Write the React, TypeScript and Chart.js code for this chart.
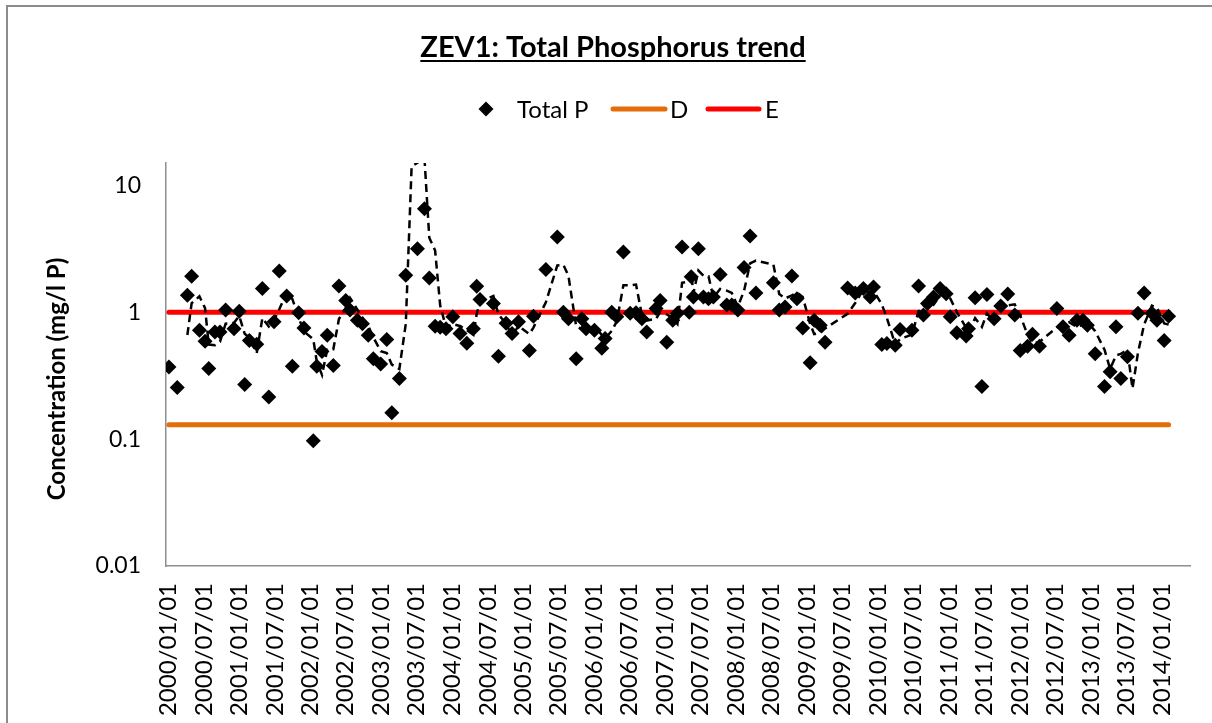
import React, { useEffect, useRef } from 'react';
import { Chart, registerables } from 'chart.js';

Chart.register(...registerables);

// ---------------- data ----------------
const chartTitle = 'ZEV1: Total Phosphorus trend';
const yAxisTitle = 'Concentration (mg/l P)';
const legendLabels = ['Total P', 'D', 'E'];

// Sampling dates of the Total P series
const sampleDates = [
  '2000-01-03', '2000-02-15', '2000-04-07', '2000-04-29', '2000-06-08', '2000-07-07', '2000-07-26', '2000-08-27', '2000-09-22', '2000-10-21', '2000-12-03', '2000-12-30',
  '2001-01-27', '2001-02-20', '2001-03-30', '2001-04-28', '2001-05-31', '2001-06-27', '2001-07-24', '2001-08-31', '2001-09-29', '2001-11-01', '2001-11-28',
  '2002-01-15', '2002-02-02', '2002-03-01', '2002-03-28', '2002-04-28', '2002-05-27', '2002-07-01', '2002-07-23', '2002-08-30', '2002-09-25', '2002-10-25', '2002-11-20', '2002-12-28',
  '2003-01-28', '2003-02-23', '2003-04-03', '2003-05-06', '2003-06-05', '2003-07-05', '2003-08-10', '2003-09-04', '2003-10-04', '2003-10-30', '2003-11-29',
  '2004-01-03', '2004-02-09', '2004-03-15', '2004-04-18', '2004-05-05', '2004-05-22', '2004-07-30', '2004-08-25', '2004-10-03', '2004-11-03', '2004-12-06',
  '2005-01-31', '2005-02-21', '2005-04-26', '2005-06-24', '2005-07-25', '2005-08-20', '2005-09-29', '2005-10-28', '2005-11-19',
  '2006-01-01', '2006-02-08', '2006-02-25', '2006-03-31', '2006-04-26', '2006-05-30', '2006-07-04', '2006-08-03', '2006-09-02', '2006-09-27', '2006-11-14', '2006-12-05',
  '2007-01-08', '2007-02-08', '2007-03-04', '2007-03-28', '2007-05-04', '2007-05-14', '2007-05-25', '2007-06-20', '2007-07-16', '2007-08-11', '2007-09-05', '2007-10-10', '2007-11-13', '2007-12-09',
  '2008-01-09', '2008-02-10', '2008-03-12', '2008-04-11', '2008-07-10', '2008-08-09', '2008-09-08', '2008-10-13', '2008-11-08', '2008-12-08',
  '2009-01-15', '2009-02-05', '2009-03-08', '2009-04-02', '2009-07-27', '2009-09-04', '2009-10-16', '2009-11-20', '2009-12-07',
  '2010-01-19', '2010-02-14', '2010-03-29', '2010-04-23', '2010-06-23', '2010-07-27', '2010-08-21', '2010-09-11', '2010-10-12', '2010-11-15', '2010-12-16',
  '2011-01-06', '2011-02-09', '2011-03-29', '2011-04-10', '2011-05-14', '2011-06-18', '2011-07-14', '2011-08-20', '2011-09-23', '2011-10-29', '2011-12-04',
  '2012-01-01', '2012-02-08', '2012-03-04', '2012-04-09', '2012-07-08', '2012-08-08', '2012-09-09', '2012-10-19', '2012-11-19', '2012-12-12',
  '2013-01-21', '2013-03-10', '2013-04-08', '2013-05-08', '2013-06-02', '2013-07-06', '2013-08-01', '2013-08-29', '2013-09-30', '2013-11-09', '2013-12-05',
  '2014-01-11', '2014-02-03',
];

// Total P (mg/l P). Two samples lie outside the axis range (2003-06 high, 2013-08 low);
// they are not drawn but show up in the moving-average trendline of the source.
const totalP = [
  0.37, 0.255, 1.36, 1.92, 0.72, 0.59, 0.36, 0.70, 0.70, 1.04, 0.74, 1.02,
  0.27, 0.60, 0.56, 1.54, 0.215, 0.84, 2.11, 1.34, 0.376, 0.99, 0.75,
  0.097, 0.376, 0.49, 0.66, 0.38, 1.61, 1.24, 1.04, 0.865, 0.81, 0.66, 0.43, 0.39,
  0.61, 0.161, 0.30, 1.96, 40, 3.17, 6.55, 1.86, 0.776, 0.76, 0.74,
  0.92, 0.68, 0.57, 0.74, 1.60, 1.26, 1.17, 0.45, 0.82, 0.68, 0.84,
  0.50, 0.93, 2.17, 3.92, 1.0, 0.89, 0.43, 0.89, 0.74,
  0.72, 0.52, 0.62, 1.0, 0.92, 2.98, 0.98, 0.99, 0.89, 0.70, 1.07, 1.24,
  0.58, 0.865, 0.98, 3.27, 1.0, 1.9, 1.32, 3.17, 1.32, 1.28, 1.32, 1.98, 1.14, 1.14,
  1.04, 2.25, 3.99, 1.42, 1.71, 1.04, 1.10, 1.93, 1.28, 0.75,
  0.40, 0.865, 0.79, 0.58, 1.55, 1.42, 1.54, 1.32, 1.58,
  0.557, 0.566, 0.55, 0.73, 0.72, 1.61, 0.95, 1.17, 1.32, 1.54, 1.40,
  0.92, 0.69, 0.65, 0.74, 1.30, 0.26, 1.38, 0.89, 1.12, 1.39, 0.95,
  0.50, 0.54, 0.67, 0.54, 1.07, 0.77, 0.66, 0.865, 0.865, 0.79,
  0.47, 0.26, 0.34, 0.77, 0.30, 0.445, 0.005, 0.98, 1.42, 0.98, 0.865,
  0.60, 0.93,
];

const dLimit = 0.13; // D guideline (mg/l P)
const eLimit = 1.0; // E guideline (mg/l P)
const trendPeriod = 3; // moving-average trendline period

const xTickLabels = [
  '2000/01/01', '2000/07/01', '2001/01/01', '2001/07/01', '2002/01/01', '2002/07/01', '2003/01/01', '2003/07/01',
  '2004/01/01', '2004/07/01', '2005/01/01', '2005/07/01', '2006/01/01', '2006/07/01', '2007/01/01', '2007/07/01',
  '2008/01/01', '2008/07/01', '2009/01/01', '2009/07/01', '2010/01/01', '2010/07/01', '2011/01/01', '2011/07/01',
  '2012/01/01', '2012/07/01', '2013/01/01', '2013/07/01', '2014/01/01',
];
const xAxisStart = '1999-12-19';
const xAxisEnd = '2014-05-24';

const yTickValues = [0.01, 0.1, 1, 10];
const yTickLabels = ['0.01', '0.1', '1', '10'];
const yMin = 0.01;
const yMax = 15;

// ---------------- helpers ----------------
const BASE = Date.UTC(2000, 0, 1);
function dayOf(s: string): number {
  const [y, m, d] = s.split(/[-/]/).map(Number);
  return (Date.UTC(y, m - 1, d) - BASE) / 86400000;
}

const FONT = 'Lato, "Open Sans", "DejaVu Sans", sans-serif';

export default function App() {
  const canvasRef = useRef<HTMLCanvasElement | null>(null);

  useEffect(() => {
    const canvas = canvasRef.current;
    if (!canvas) return;

    const days = sampleDates.map(dayOf);
    const pPoints = days.map((x, i) => ({ x, y: totalP[i] }));
    const trend: { x: number; y: number }[] = [];
    for (let i = trendPeriod - 1; i < totalP.length; i++) {
      let s = 0;
      for (let k = 0; k < trendPeriod; k++) s += totalP[i - k];
      trend.push({ x: days[i], y: s / trendPeriod });
    }
    const first = days[0];
    const last = days[days.length - 1];
    const xTickDays = xTickLabels.map(dayOf);

    const decor = {
      id: 'decor',
      beforeDraw(chart: any) {
        const ctx = chart.ctx;
        ctx.save();
        ctx.strokeStyle = '#8c8c8c';
        ctx.lineWidth = 2;
        ctx.strokeRect(7, 6, 1400, 900);
        ctx.restore();
      },
      afterDraw(chart: any) {
        const ctx = chart.ctx;
        ctx.save();
        // title with underline
        ctx.fillStyle = '#000';
        ctx.font = `bold 29px ${FONT}`;
        ctx.textAlign = 'center';
        ctx.textBaseline = 'alphabetic';
        const tx = 613;
        const ty = 57;
        ctx.fillText(chartTitle, tx, ty);
        const tw = ctx.measureText(chartTitle).width;
        ctx.fillRect(tx - tw / 2, ty + 3, tw, 2);

        // legend
        const ly = 109;
        ctx.beginPath();
        ctx.moveTo(486 - 7.5, ly);
        ctx.lineTo(486, ly - 7.5);
        ctx.lineTo(486 + 7.5, ly);
        ctx.lineTo(486, ly + 7.5);
        ctx.closePath();
        ctx.fill();
        ctx.font = `24px ${FONT}`;
        ctx.textAlign = 'left';
        ctx.textBaseline = 'middle';
        ctx.fillText(legendLabels[0], 517, ly + 1);
        ctx.lineCap = 'round';
        ctx.lineWidth = 5;
        ctx.strokeStyle = '#E46C0A';
        ctx.beginPath();
        ctx.moveTo(613, ly);
        ctx.lineTo(665, ly);
        ctx.stroke();
        ctx.fillText(legendLabels[1], 670, ly + 1);
        ctx.strokeStyle = '#FF0000';
        ctx.beginPath();
        ctx.moveTo(708, ly);
        ctx.lineTo(759, ly);
        ctx.stroke();
        ctx.fillText(legendLabels[2], 765, ly + 1);

        // y-axis title
        ctx.translate(57, 379);
        ctx.rotate(-Math.PI / 2);
        ctx.font = `bold 24px ${FONT}`;
        ctx.textAlign = 'center';
        ctx.textBaseline = 'middle';
        ctx.fillText(yAxisTitle, 0, 0);
        ctx.restore();
      },
    };

    const chart = new Chart(canvas, {
      type: 'scatter',
      data: {
        datasets: [
          {
            label: legendLabels[0],
            data: pPoints,
            pointStyle: 'rectRot',
            pointRadius: 7.5,
            pointHoverRadius: 7.5,
            backgroundColor: '#000',
            borderColor: '#000',
            borderWidth: 0,
            showLine: false,
            order: 0,
          },
          {
            label: 'Trend',
            data: trend,
            showLine: true,
            borderColor: '#000',
            borderWidth: 2.5,
            borderDash: [8, 5],
            pointRadius: 0,
            tension: 0,
            order: 1,
          },
          {
            label: legendLabels[1],
            data: [{ x: first, y: dLimit }, { x: last, y: dLimit }],
            showLine: true,
            borderColor: '#E46C0A',
            borderWidth: 5,
            borderCapStyle: 'round',
            pointRadius: 0,
            order: 2,
          },
          {
            label: legendLabels[2],
            data: [{ x: first, y: eLimit }, { x: last, y: eLimit }],
            showLine: true,
            borderColor: '#FF0000',
            borderWidth: 5,
            borderCapStyle: 'round',
            pointRadius: 0,
            order: 2,
          },
        ],
      },
      options: {
        responsive: false,
        animation: false,
        events: [],
        layout: { padding: { left: 0, top: 163, right: 22, bottom: 0 } },
        plugins: {
          legend: { display: false },
          title: { display: false },
          tooltip: { enabled: false },
        },
        scales: {
          x: {
            type: 'linear',
            min: dayOf(xAxisStart),
            max: dayOf(xAxisEnd),
            grid: { display: false, drawTicks: false },
            border: { display: true, color: '#8e8e8e', width: 1.5 },
            afterBuildTicks: (scale: any) => {
              scale.ticks = xTickDays.map((v) => ({ value: v }));
            },
            afterFit: (scale: any) => {
              scale.height = 157;
            },
            ticks: {
              autoSkip: false,
              minRotation: 90,
              maxRotation: 90,
              padding: 17,
              color: '#000',
              font: { family: FONT, size: 24 },
              callback: (_v: any, i: number) => xTickLabels[i],
            },
          },
          y: {
            type: 'logarithmic',
            min: yMin,
            max: yMax,
            grid: { display: false, drawTicks: false },
            border: { display: true, color: '#8e8e8e', width: 1.5 },
            afterBuildTicks: (scale: any) => {
              scale.ticks = yTickValues.map((v) => ({ value: v }));
            },
            afterFit: (scale: any) => {
              scale.width = 166;
            },
            ticks: {
              padding: 25,
              color: '#000',
              font: { family: FONT, size: 23 },
              callback: (_v: any, i: number) => yTickLabels[i],
            },
          },
        },
      },
      plugins: [decor],
    } as any);

    return () => {
      chart.destroy();
    };
  }, []);

  return (
    <div style={{ position: 'absolute', left: 0, top: 0, width: 1212, height: 723, background: '#fff' }}>
      <canvas ref={canvasRef} width={1212} height={723} style={{ display: 'block' }} />
    </div>
  );
}
